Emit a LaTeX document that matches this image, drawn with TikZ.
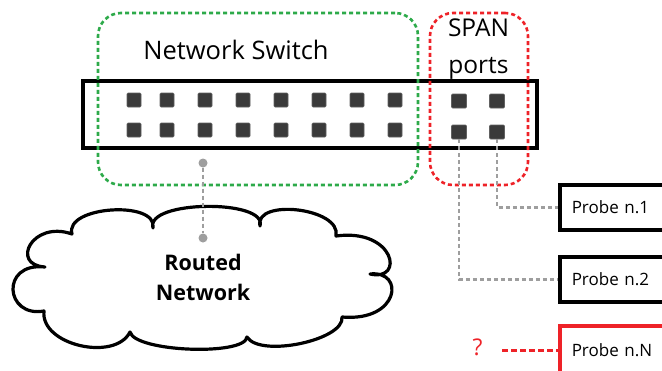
\documentclass[tikz,border=0pt]{standalone}
\usepackage{fontspec}
\setmainfont{Open Sans}
\definecolor{portc}{HTML}{3A3A3A}
\definecolor{grn}{HTML}{2DAA4A}
\definecolor{rd}{HTML}{EE2228}
\definecolor{conn}{HTML}{9E9E9E}
\tikzset{
  port/.style={fill=portc, draw=portc!80!white, line width=0.6pt, minimum width=14pt, minimum height=14pt, inner sep=0pt, rounded corners=1pt},
  switchbox/.style={draw=black, line width=3.3pt, minimum width=454pt, minimum height=67pt, inner sep=0pt},
  grpbox/.style={line width=2.6pt, dash pattern=on 4pt off 3pt, rounded corners=23pt, minimum height=172pt, inner sep=0pt},
  bigtxt/.style={font=\fontsize{24.5}{26}\selectfont, anchor=base, inner sep=0pt},
  cloudtxt/.style={font=\bfseries\fontsize{21.5}{24}\selectfont, anchor=base, inner sep=0pt},
  probe/.style={draw=black, line width=3.5pt, minimum height=45pt, anchor=west, inner xsep=12pt, text width=170pt, align=left, font=\fontsize{17}{19}\selectfont},
  gconn/.style={draw=conn, line width=2.8pt, dash pattern=on 4pt off 3pt},
  gdot/.style={circle, fill=conn, minimum size=9pt, inner sep=0pt},
}
\begin{document}
\begin{tikzpicture}[x=1pt,y=-1pt]
\useasboundingbox (0,0) rectangle (662,370);
\clip (0,0) rectangle (662,370);
% switch
\node[switchbox] (switch) at (310,114.5) {};
\foreach \i/\x in {1/134,2/167,3/205,4/243,5/281,6/319,7/357,8/395}{
  \node[port] (pa\i) at (\x,100) {};
  \node[port] (pb\i) at (\x,130) {};
}
\node[port, minimum width=15pt] (spa1) at (459,101) {};
\node[port, minimum width=15pt] (spa2) at (497,101) {};
\node[port, minimum width=15pt] (sp1) at (459,132) {};
\node[port, minimum width=15pt] (sp2) at (497,132) {};
% group boxes
\node[grpbox, draw=grn, minimum width=320pt] (nsbox) at (258,99) {};
\node[grpbox, draw=rd, minimum width=98pt] (spanbox) at (479,99) {};
\node[bigtxt, font=\fontsize{25.5}{27}\selectfont] (nstxt) at (236,59.3) {Network Switch};
\node[bigtxt] (spantxt) at (478.5,36.7) {SPAN};
\node[bigtxt] (portstxt) at (478.5,73.3) {ports};
% cloud
\draw[line width=3.2pt, line join=round, fill=white] (72,234)
  .. controls (64,206) and (158,200) .. (153,228)
  .. controls (145,200) and (268,199) .. (260,226)
  .. controls (254,198) and (342,208) .. (336,236)
  .. controls (395,228) and (405,282) .. (370,274)
  .. controls (405,270) and (400,322) .. (342,317)
  .. controls (345,340) and (260,358) .. (247,337)
  .. controls (245,356) and (135,352) .. (130,332)
  .. controls (115,362) and (40,345) .. (44,311)
  .. controls (5,318) and (0,262) .. (45,267)
  .. controls (10,265) and (32,220) .. (72,234) -- cycle;
\node[cloudtxt] (rt1) at (203,270) {Routed};
\node[cloudtxt] (rt2) at (203,300) {Network};
% probes
\node[probe] (p1) at (558,207.5) {Probe n.1};
\node[probe] (p2) at (558,279.5) {Probe n.2};
\node[probe, draw=rd, minimum height=49pt] (pN) at (558,350.5) {Probe n.N};
% connectors
\node[gdot] (d1) at (203,163) {};
\node[gdot] (d2) at (203,238) {};
\draw[gconn] (d1) -- (d2);
\draw[gconn] (sp2.south) |- (p1.west);
\draw[gconn] (sp1.south) |- (p2.west);
\node[text=rd, font=\fontsize{23}{25}\selectfont, inner sep=0pt] (q) at (477.5,347) {?};
\coordinate (qa) at (502,350.5);
\draw[rd, line width=3pt, dash pattern=on 6pt off 3pt] (qa) -- (pN.west);
\end{tikzpicture}
\end{document}
